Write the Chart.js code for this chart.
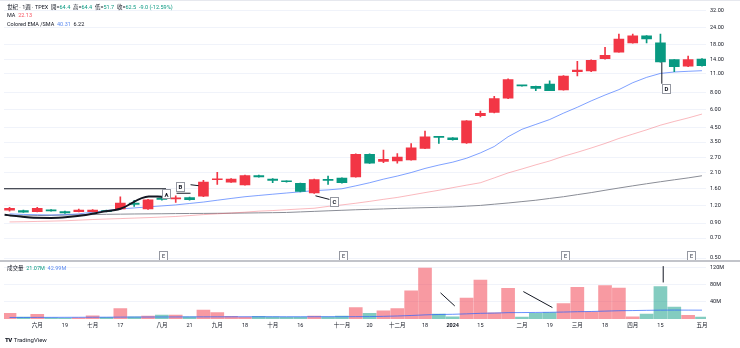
<!DOCTYPE html>
<html lang="zh-Hant">
<head>
<meta charset="UTF-8">
<title>世紀 · 1週 · TPEX</title>
<script src="https://cdn.jsdelivr.net/npm/chart.js"></script>
<style>
  body { margin: 0; background: #fff; }
  .wrap { position: relative; width: 740px; height: 348px; overflow: hidden;
          font-family: Roboto, "Noto Sans CJK TC", sans-serif; color: #131722; }
  #chart { position: absolute; left: 0; top: 0; }
  .leg { position: absolute; left: 7px; font-size: 5.5px; line-height: 7px; white-space: nowrap; }
  .dn { color: #089981; }
  .ma { color: #f7525f; }
  .ema { color: #5b8af0; }
  .logo { position: absolute; left: 5px; top: 336px; font-size: 6px; line-height: 7px; color: #131722; }
  .logo b { font-weight: 900; letter-spacing: -0.5px; margin-right: 2px; }
</style>
</head>
<body>
<div class="wrap">
  <canvas id="chart" width="740" height="348"></canvas>
  <div class="leg" style="top:3.5px">世紀 · 1週 · TPEX&nbsp; 開=<span class="dn">64.4</span>&nbsp; 高=<span class="dn">64.4</span>&nbsp; 低=<span class="dn">51.7</span>&nbsp; 收=<span class="dn">62.5</span>&nbsp; <span class="dn">-9.0 (-12.59%)</span></div>
  <div class="leg" style="top:11.5px">MA&nbsp; <span class="ma">22.13</span></div>
  <div class="leg" style="top:20.5px">Colored EMA /SMA&nbsp; <span class="ema">40.31</span>&nbsp; 6.22</div>
  <div class="leg" style="top:265px">成交量&nbsp; <span class="dn">21.07M</span>&nbsp; <span class="ema">42.99M</span></div>
  <div class="logo"><b>TV</b>TradingView</div>
</div>

<script>
    // weekly bars
    const weeks = ['2023-05-22', '2023-05-29', '2023-06-05', '2023-06-12', '2023-06-19', '2023-06-26',
        '2023-07-03', '2023-07-10', '2023-07-17', '2023-07-24', '2023-07-31', '2023-08-07', '2023-08-14',
        '2023-08-21', '2023-08-28', '2023-09-04', '2023-09-11', '2023-09-18', '2023-09-25', '2023-10-02',
        '2023-10-09', '2023-10-16', '2023-10-23', '2023-10-30', '2023-11-06', '2023-11-13', '2023-11-20',
        '2023-11-27', '2023-12-04', '2023-12-11', '2023-12-18', '2023-12-25', '2024-01-01', '2024-01-08',
        '2024-01-15', '2024-01-22', '2024-01-29', '2024-02-05', '2024-02-12', '2024-02-19', '2024-02-26',
        '2024-03-04', '2024-03-11', '2024-03-18', '2024-03-25', '2024-04-01', '2024-04-08', '2024-04-15',
        '2024-04-22', '2024-04-29', '2024-05-06'];

    const open = [1.117, 1.11, 1.09, 1.12, 1.09, 1.09, 1.09, 1.11, 1.14, 1.26, 1.14, 1.37, 1.35, 1.38, 1.41,
        1.86, 1.79, 1.71, 2.00, 1.88, 1.82, 1.75, 1.49, 1.86, 1.91, 1.95, 2.85, 2.53, 2.55, 2.60, 3.15,
        3.82, 3.76, 3.45, 5.45, 5.76, 7.30, 9.05, 8.92, 9.25, 8.40, 11.4, 11.55, 14.2, 15.85, 18.5, 20.8,
        18.5, 13.95, 12.5, 14.1];
    const high = [1.17, 1.12, 1.17, 1.13, 1.10, 1.14, 1.13, 1.12, 1.40, 1.317, 1.34, 1.40, 1.42, 1.39, 1.84,
        2.11, 1.90, 2.01, 2.01, 1.90, 1.83, 1.76, 1.88, 1.98, 1.92, 2.87, 2.87, 3.06, 2.89, 3.42, 4.21,
        3.84, 3.78, 5.02, 5.90, 7.56, 10.1, 9.08, 8.95, 9.79, 10.7, 13.6, 13.9, 17.2, 21.45, 21.45, 20.9,
        21.45, 14.0, 14.85, 14.2];
    const low = [1.10, 1.075, 1.085, 1.10, 1.06, 1.085, 1.085, 1.085, 1.13, 1.19, 1.13, 1.32, 1.27, 1.32, 1.40,
        1.72, 1.78, 1.70, 1.94, 1.77, 1.79, 1.52, 1.48, 1.72, 1.76, 1.94, 2.45, 2.48, 2.46, 2.58, 3.13,
        3.42, 3.62, 3.42, 5.35, 5.70, 7.25, 8.95, 8.30, 8.28, 8.38, 10.63, 11.4, 14.1, 15.8, 18.4, 18.5,
        13.4, 11.41, 12.4, 12.5];
    const close = [1.154, 1.08, 1.154, 1.105, 1.065, 1.12, 1.12, 1.09, 1.26, 1.23, 1.33, 1.34, 1.36, 1.335,
        1.79, 1.875, 1.88, 2.00, 1.95, 1.84, 1.80, 1.53, 1.87, 1.84, 1.77, 2.85, 2.46, 2.62, 2.72, 3.18,
        3.83, 3.79, 3.65, 5.00, 5.68, 7.25, 10.0, 9.00, 8.60, 8.30, 10.6, 11.7, 13.8, 15.0, 19.75, 20.8,
        19.8, 13.45, 12.4, 13.95, 12.6];

    // volume in millions of shares
    const volume = [13, 4.6, 10.7, 3, 2.3, 2.5, 7.6, 3.8, 24.4, 5.3, 6.9, 9.1, 9.1, 5.3, 20.6, 15.2, 6, 4.6,
        6, 5.3, 4.6, 4.6, 6.9, 5.3, 6.9, 26.7, 13, 19, 24.4, 65.6, 119, 11.4, 5.3, 48.8, 90.7, 14.5, 71.6,
        4.6, 13, 15.2, 35.8, 73.9, 16.8, 77.7, 72.4, 5.3, 11.4, 75.4, 28, 8.4, 4.6];
    const volMa = [3.5, 3.6, 3.7, 3.8, 3.9, 4.0, 4.1, 4.2, 4.4, 4.5, 4.6, 4.7, 4.8, 4.9, 5.0, 5.1, 5.1, 5.2,
        5.2, 5.2, 5.2, 5.2, 5.3, 5.3, 5.3, 5.5, 5.6, 6.2, 7.0, 8.2, 9.6, 10.5, 11.0, 12.0, 13.2, 13.8, 14.8,
        15.0, 15.3, 15.6, 16.2, 17.0, 17.5, 18.4, 19.3, 19.7, 20.2, 20.6, 20.8, 20.7, 20.6];

    // moving averages on price
    const emaLine = [1.05, 1.04, 1.035, 1.03, 1.035, 1.05, 1.08, 1.11, 1.14, 1.16, 1.18, 1.20, 1.22, 1.25,
        1.28, 1.32, 1.36, 1.40, 1.43, 1.46, 1.49, 1.52, 1.55, 1.57, 1.60, 1.68, 1.77, 1.88, 1.98, 2.10,
        2.25, 2.38, 2.50, 2.67, 2.92, 3.25, 3.83, 4.34, 4.71, 5.11, 5.69, 6.28, 6.99, 7.71, 8.44, 9.48,
        10.37, 11.08, 11.35, 11.48, 11.60];
    const maLine = [0.917, 0.92, 0.925, 0.93, 0.935, 0.945, 0.955, 0.963, 0.97, 0.978, 0.986, 0.995, 1.005,
        1.02, 1.037, 1.05, 1.065, 1.08, 1.099, 1.11, 1.125, 1.14, 1.154, 1.19, 1.22, 1.255, 1.295, 1.34,
        1.383, 1.44, 1.50, 1.56, 1.63, 1.70, 1.77, 1.92, 2.087, 2.23, 2.39, 2.55, 2.76, 2.95, 3.17, 3.42,
        3.72, 4.00, 4.30, 4.65, 4.95, 5.25, 5.60];
    const smaLine = [1.01, 1.015, 1.02, 1.025, 1.03, 1.034, 1.038, 1.042, 1.045, 1.048, 1.05, 1.052, 1.055,
        1.057, 1.058, 1.06, 1.062, 1.065, 1.068, 1.071, 1.075, 1.085, 1.095, 1.105, 1.115, 1.125, 1.133,
        1.141, 1.15, 1.158, 1.165, 1.172, 1.18, 1.195, 1.21, 1.235, 1.26, 1.29, 1.32, 1.36, 1.40, 1.45,
        1.50, 1.56, 1.62, 1.68, 1.74, 1.80, 1.86, 1.92, 1.99];

    // axis ticks
    const priceTicks = [0.5, 0.7, 0.9, 1.2, 1.6, 2.1, 2.7, 3.5, 4.5, 6, 8, 11, 14, 18, 24, 32];
    const volTicks = [40, 80, 120];
    const tickWeeks = ['2023-06-05', '2023-06-19', '2023-07-03', '2023-07-17', '2023-08-07', '2023-08-21',
        '2023-09-04', '2023-09-18', '2023-10-02', '2023-10-16', '2023-11-06', '2023-11-20', '2023-12-04',
        '2023-12-18', '2024-01-01', '2024-01-15', '2024-02-05', '2024-02-19', '2024-03-04', '2024-03-18',
        '2024-04-01', '2024-04-15', '2024-05-06'];
    const tickText = ['六月', '19', '七月', '17', '八月', '21', '九月', '18', '十月', '16', '十一月', '20',
        '十二月', '18', '2024', '15', '二月', '19', '三月', '18', '四月', '15', '五月'];

    // hand drawn marks: [week index, price]
    const cupPath = [[-0.36, 1.034], [0.8, 1.004], [1.73, 0.982], [3, 0.98], [4.2, 0.995], [5.5, 1.029],
        [6.6, 1.081], [8.0, 1.145], [10.05, 1.406], [11.0, 1.40]];
    const neckline = [[-0.4, 1.60], [11.3, 1.60]];
    const notes = [['A', 11.3, 1.477], ['B', 12.3, 1.671], ['C', 23.43, 1.295], ['D', 47.4, 8.65]];
    const leaders = [[13.07, 1.712, 13.65, 1.685], [12.06, 1.484, 13.07, 1.484],
        [22.09, 1.422, 23.1, 1.338], [47.1, 13.38, 47.1, 9.32]];
    const earnings = [11.05, 24.1, 40.1, 49.2];
    const volLines = [[31.12, 61, 32.15, 30.4], [37.1, 64, 39.2, 26.7], [47.2, 123.4, 47.2, 85.3]];

    const UP = '#f23645';
    const DOWN = '#089981';
    const FONT = 'Roboto, "Noto Sans CJK TC", sans-serif';
    const rising = close.map((c, i) => c >= open[i]);
    const pts = arr => arr.map((v, i) => ({ x: i, y: v }));
    const tickPos = tickWeeks.map(w => weeks.indexOf(w));

    const marks = {
        id: 'marks',
        afterDatasetsDraw(chart) {
            const { ctx, scales: { x, y, v } } = chart;
            ctx.save();
            ctx.strokeStyle = '#131722';
            ctx.lineWidth = 1;
            leaders.forEach(([i1, p1, i2, p2]) => {
                ctx.beginPath();
                ctx.moveTo(x.getPixelForValue(i1), y.getPixelForValue(p1));
                ctx.lineTo(x.getPixelForValue(i2), y.getPixelForValue(p2));
                ctx.stroke();
            });
            volLines.forEach(([i1, a, i2, b]) => {
                ctx.beginPath();
                ctx.moveTo(x.getPixelForValue(i1), v.getPixelForValue(a));
                ctx.lineTo(x.getPixelForValue(i2), v.getPixelForValue(b));
                ctx.stroke();
            });

            const box = (cx, cy, txt, col) => {
                ctx.fillStyle = '#fff';
                ctx.strokeStyle = '#9598a1';
                ctx.fillRect(Math.round(cx - 4) + 0.5, Math.round(cy - 4.5) + 0.5, 8, 9);
                ctx.strokeRect(Math.round(cx - 4) + 0.5, Math.round(cy - 4.5) + 0.5, 8, 9);
                ctx.fillStyle = col;
                ctx.font = 'bold 6px ' + FONT;
                ctx.textAlign = 'center';
                ctx.textBaseline = 'middle';
                ctx.fillText(txt, Math.round(cx) + 0.5, Math.round(cy) + 1);
            };
            notes.forEach(([t, i, p]) => box(x.getPixelForValue(i), y.getPixelForValue(p), t, '#131722'));
            earnings.forEach(i => box(x.getPixelForValue(i), y.bottom - 6, 'E', '#787b86'));
            ctx.restore();
        },
        afterDraw(chart) {
            const { ctx, scales: { y } } = chart;
            ctx.save();
            ctx.fillStyle = '#c2c4ca';
            ctx.fillRect(0, Math.round(y.bottom) - 1, chart.width, 2);
            ctx.fillStyle = '#e6e8ee';
            ctx.fillRect(0, 0, chart.width, 1);
            ctx.restore();
        }
    };

    const lineStyle = (color, width) => ({
        type: 'line', borderColor: color, borderWidth: width, pointRadius: 0, fill: false, tension: 0
    });

    new Chart(document.getElementById('chart'), {
        type: 'bar',
        data: {
            datasets: [
                {
                    ...lineStyle('#131722', 2), label: 'cup', yAxisID: 'y', order: 0,
                    cubicInterpolationMode: 'monotone',
                    data: cupPath.map(([a, b]) => ({ x: a, y: b }))
                },
                {
                    ...lineStyle('#131722', 1.2), label: 'neckline', yAxisID: 'y', order: 0,
                    data: neckline.map(([a, b]) => ({ x: a, y: b }))
                },
                {
                    label: 'body', yAxisID: 'y', order: 2, grouped: false, barThickness: 10, minBarLength: 1,
                    data: open.map((o, i) => ({ x: i, y: [o, close[i]] })),
                    backgroundColor: rising.map(u => u ? UP : DOWN)
                },
                {
                    label: 'wick', yAxisID: 'y', order: 3, grouped: false, barThickness: 1,
                    data: low.map((l, i) => ({ x: i, y: [l, high[i]] })),
                    backgroundColor: rising.map(u => u ? UP : DOWN)
                },
                { ...lineStyle('rgba(41,98,255,0.6)', 1), label: 'EMA', yAxisID: 'y', order: 4, data: pts(emaLine) },
                { ...lineStyle('rgba(242,54,69,0.35)', 1), label: 'MA', yAxisID: 'y', order: 4, data: pts(maLine) },
                { ...lineStyle('#8a8d96', 1), label: 'SMA', yAxisID: 'y', order: 4, data: pts(smaLine) },
                {
                    label: '成交量', yAxisID: 'v', order: 6, grouped: false, barThickness: 13,
                    data: pts(volume),
                    backgroundColor: rising.map(u => u ? 'rgba(242,54,69,0.5)' : 'rgba(8,153,129,0.5)')
                },
                { ...lineStyle('rgba(41,98,255,0.7)', 1), label: 'Vol MA', yAxisID: 'v', order: 5, data: pts(volMa) }
            ]
        },
        options: {
            responsive: false,
            animation: false,
            layout: { padding: { left: 4, top: 1, right: 0, bottom: 17 } },
            plugins: { legend: { display: false }, tooltip: { enabled: false } },
            scales: {
                x: {
                    type: 'linear', min: -0.4, max: 50.29, offset: false,
                    grid: { display: false, drawTicks: false }, border: { display: false },
                    afterBuildTicks: s => { s.ticks = tickPos.map(p => ({ value: p })); },
                    afterFit: s => { s.height = 12; },
                    ticks: {
                        autoSkip: false, maxRotation: 0, padding: 3, color: '#131722',
                        font: c => ({ size: 5.5, family: FONT, weight: tickText[c.index] === '2024' ? 'bold' : 'normal' }),
                        callback: (val, i) => tickText[i]
                    }
                },
                y: {
                    type: 'logarithmic', position: 'right', stack: 'pane', stackWeight: 259,
                    min: 0.4748, max: 33.6,
                    grid: { color: '#f0f3fa', drawTicks: false }, border: { display: false },
                    afterBuildTicks: s => { s.ticks = priceTicks.map(p => ({ value: p })); },
                    afterFit: s => { s.width = 34; },
                    ticks: {
                        autoSkip: false, padding: 4, color: '#131722', font: { size: 5.5, family: FONT },
                        callback: val => Number(val).toFixed(2)
                    }
                },
                v: {
                    type: 'linear', position: 'right', stack: 'pane', stackWeight: 59,
                    min: 0, max: 134.9,
                    grid: { color: '#f0f3fa', drawTicks: false }, border: { display: false },
                    afterBuildTicks: s => { s.ticks = volTicks.map(p => ({ value: p })); },
                    afterFit: s => { s.width = 34; },
                    ticks: {
                        autoSkip: false, padding: 4, color: '#131722', font: { size: 5.5, family: FONT },
                        callback: val => val + 'M'
                    }
                }
            }
        },
        plugins: [marks]
    });
</script>
</body>
</html>
